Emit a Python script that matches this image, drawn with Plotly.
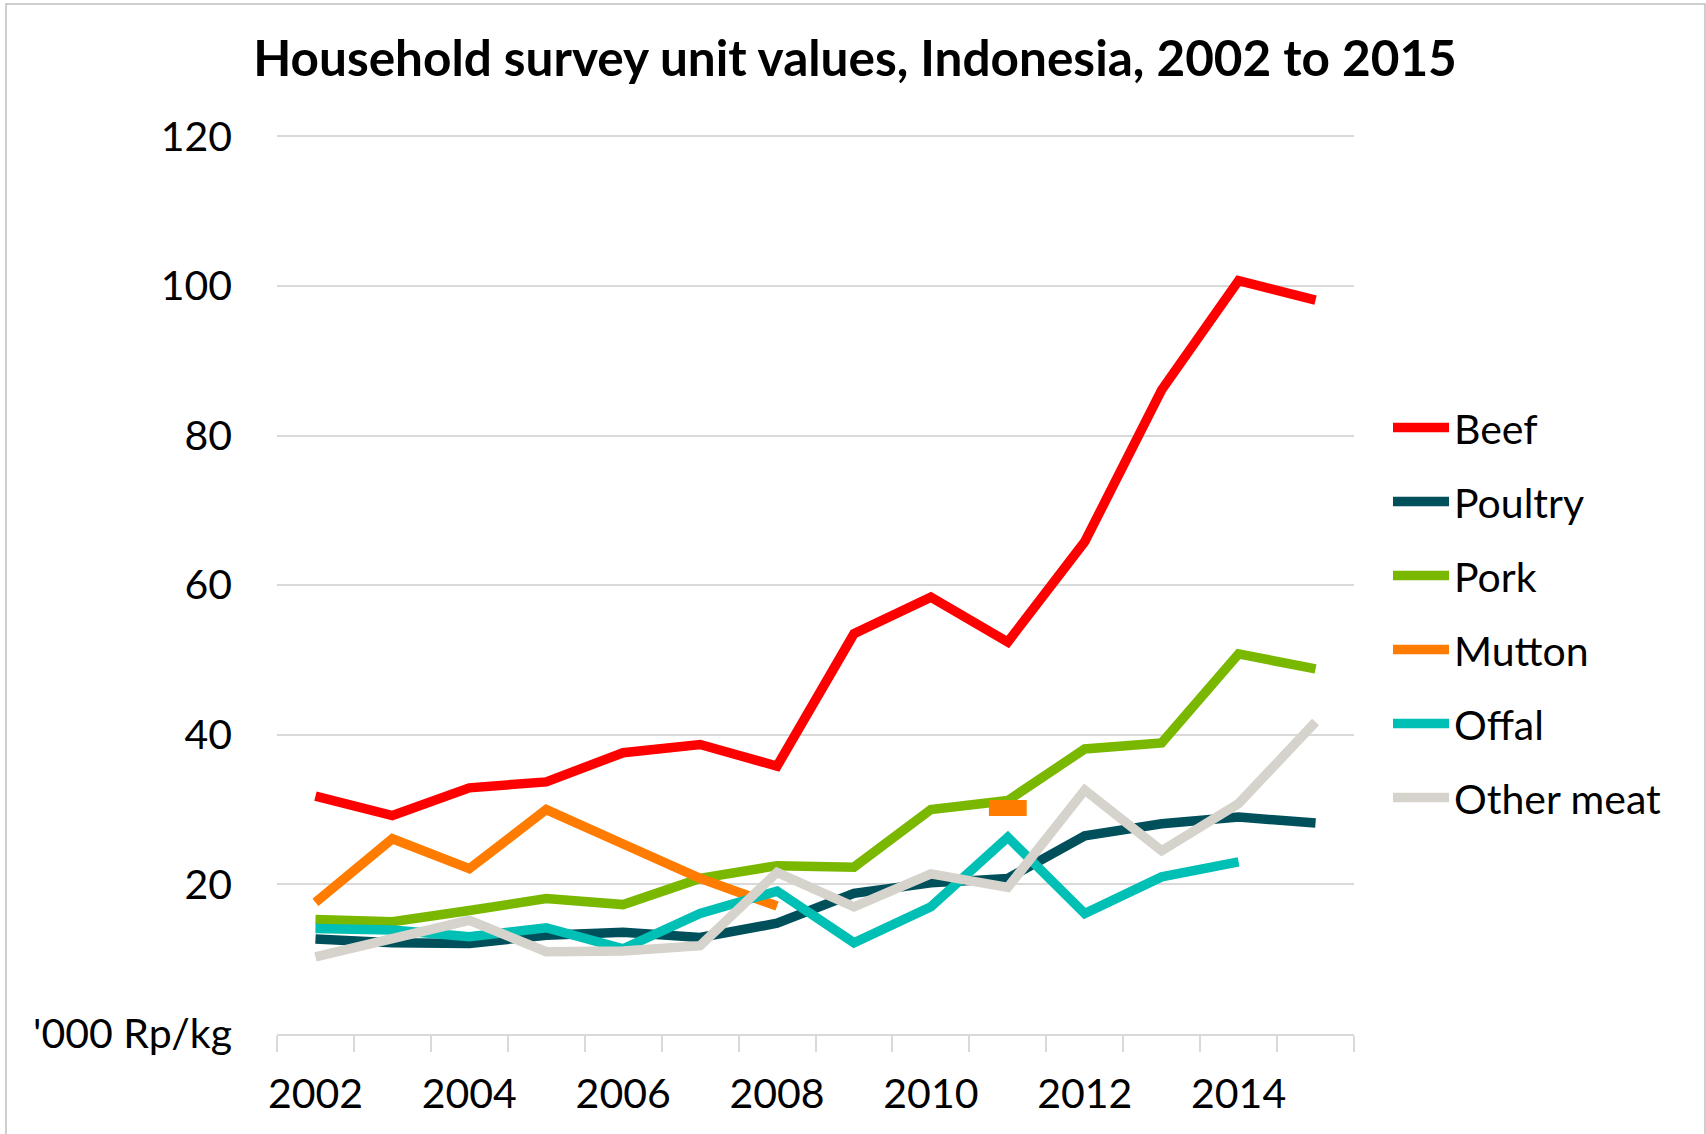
import plotly.graph_objects as go

years = list(range(2002, 2016))
beef = [31.8, 29.2, 32.9, 33.7, 37.6, 38.7, 35.8, 53.5, 58.4, 52.4, 65.8, 86.1, 100.7, 98.1]
poultry = [12.7, 12.2, 12.1, 13.2, 13.6, 12.9, 14.8, 18.8, 20.2, 20.8, 26.5, 28.1, 29.0, 28.2]
pork = [15.3, 15.0, 16.5, 18.1, 17.3, 20.8, 22.5, 22.3, 30.0, 31.2, 38.1, 38.9, 50.8, 48.8]
mutton = [17.6, 26.1, 22.1, 30.0, 25.4, 20.8, 17.1, None, None, 30.2, None, None, None, None]
offal = [14.1, 13.9, 13.0, 14.2, 11.4, 16.1, 19.1, 12.2, 17.0, 26.3, 16.1, 21.0, 23.0, None]
other_meat = [10.3, 12.8, 15.2, 11.0, 11.1, 11.8, 21.6, 17.0, 21.4, 19.6, 32.6, 24.5, 30.8, 41.7]

series_names = ["Beef", "Poultry", "Pork", "Mutton", "Offal", "Other meat"]
series_values = [beef, poultry, pork, mutton, offal, other_meat]
colors = ["#FF0000", "#00505C", "#7AB800", "#FF7C00", "#00BFB4", "#D5D3CB"]

x_tick_vals = [2002, 2004, 2006, 2008, 2010, 2012, 2014]
x_tick_text = [str(v) for v in x_tick_vals]
y_tick_vals = [0, 20, 40, 60, 80, 100, 120]
y_tick_text = ["'000 Rp/kg", "20", "40", "60", "80", "100", "120"]

FONT = "Lato"

fig = go.Figure()
for name, vals, col in zip(series_names, series_values, colors):
    fig.add_trace(go.Scatter(
        x=years, y=vals, name=name, mode="lines",
        line=dict(color=col, width=9.5), legendgroup=name,
        connectgaps=False,
    ))
    # isolated points (no neighbours) drawn as a short dash marker
    iso_x, iso_y = [], []
    for i, v in enumerate(vals):
        if v is None:
            continue
        prev_none = i == 0 or vals[i - 1] is None
        next_none = i == len(vals) - 1 or vals[i + 1] is None
        if prev_none and next_none:
            iso_x.append(years[i])
            iso_y.append(v)
    if iso_x:
        fig.add_trace(go.Scatter(
            x=iso_x, y=iso_y, mode="markers", showlegend=False, legendgroup=name,
            marker=dict(symbol="line-ew", size=27, line=dict(color=col, width=16)),
        ))

fig.update_layout(
    width=1706, height=1134,
    paper_bgcolor="white", plot_bgcolor="white",
    margin=dict(l=277, r=352, t=134, b=100),
    font=dict(family=FONT, size=41, color="#000000"),
    title=dict(
        text="Household survey unit values, Indonesia, 2002 to 2015",
        font=dict(family=FONT, size=49.5, color="#000000", weight=700),
        x=855 / 1706, xanchor="center", xref="container",
        y=1 - 59 / 1134, yref="container", yanchor="middle",
    ),
    showlegend=True,
    legend=dict(
        x=(1388 - 277) / 1077, xanchor="left",
        y=(1033.7 - 395.5) / 898, yanchor="top",
        font=dict(family=FONT, size=41, color="#000000"),
        tracegroupgap=17.7, bgcolor="rgba(0,0,0,0)",
        itemwidth=56,
    ),
    shapes=[dict(
        type="rect", xref="paper", yref="paper",
        x0=(6 - 277) / 1077, x1=(1705 - 277) / 1077,
        y0=(1033.7 - 1140) / 898, y1=(1033.7 - 6) / 898,
        line=dict(color="#BFBFBF", width=1.5), fillcolor="rgba(0,0,0,0)",
        layer="below",
    )],
)

fig.update_xaxes(
    range=[2001.5, 2015.5], tickmode="array", tickvals=x_tick_vals, ticktext=x_tick_text,
    ticks="", ticklabelstandoff=23, showgrid=False, zeroline=False,
    showline=True, linecolor="#D9D9D9", linewidth=1.5,
    tickfont=dict(family=FONT, size=41),
    minor=dict(tickmode="linear", tick0=2001.5, dtick=1, ticks="outside",
               ticklen=16, tickwidth=1.5, tickcolor="#D9D9D9", showgrid=False),
)
fig.update_yaxes(
    range=[0, 120.3], tickmode="array", tickvals=y_tick_vals, ticktext=y_tick_text,
    ticks="", ticklabelstandoff=44, showgrid=True, gridcolor="#D9D9D9", gridwidth=1.5,
    zeroline=False, showline=False,
    tickfont=dict(family=FONT, size=41),
)

fig.write_html("out.html", config={"displayModeBar": False},
               post_script="document.body.style.margin='0';")
